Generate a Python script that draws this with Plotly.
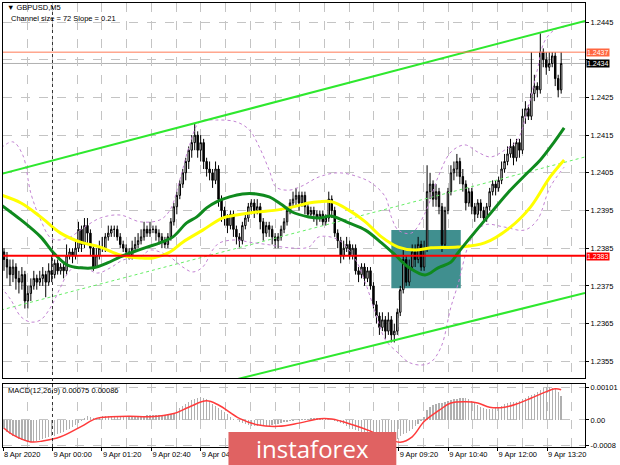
import plotly.graph_objects as go
from plotly.subplots import make_subplots

# ---------------- data ----------------
symbol_title = "\u25BC GBPUSD,M5"
channel_text = "Channel size = 72 Slope = 0.21"
macd_title = "MACD(12,26,9) 0.00075 0.00086"

open_ = [1.2384, 1.2382, 1.2380, 1.2378, 1.2380, 1.2377, 1.2376, 1.2378, 1.2371, 1.2373,
         1.2375, 1.2377, 1.2376, 1.2377, 1.2378, 1.2376, 1.2379, 1.2378, 1.2381, 1.2379,
         1.2380, 1.2379, 1.2383, 1.2384, 1.2383, 1.2385, 1.2390, 1.2386, 1.2391, 1.2389,
         1.2385, 1.2380, 1.2383, 1.2385, 1.2385, 1.2388, 1.2389, 1.2390, 1.2390, 1.2388,
         1.2386, 1.2385, 1.2384, 1.2383, 1.2385, 1.2386, 1.2387, 1.2388, 1.2390, 1.2389,
         1.2390, 1.2390, 1.2389, 1.2388, 1.2387, 1.2386, 1.2388, 1.2392, 1.2396, 1.2399,
         1.2402, 1.2405, 1.2408, 1.2411, 1.2413, 1.2415, 1.2411, 1.2413, 1.2408, 1.2406,
         1.2405, 1.2403, 1.2406, 1.2398, 1.2395, 1.2393, 1.2391, 1.2394, 1.2390, 1.2388,
         1.2387, 1.2391, 1.2393, 1.2396, 1.2397, 1.2395, 1.2396, 1.2392, 1.2389, 1.2391,
         1.2390, 1.2388, 1.2387, 1.2388, 1.2390, 1.2392, 1.2395, 1.2397, 1.2398, 1.2399,
         1.2397, 1.2399, 1.2396, 1.2394, 1.2395, 1.2394, 1.2393, 1.2394, 1.2392, 1.2393,
         1.2398, 1.2395, 1.2389, 1.2387, 1.2383, 1.2385, 1.2386, 1.2383, 1.2385, 1.2379,
         1.2378, 1.2380, 1.2377, 1.2379, 1.2375, 1.2370, 1.2367, 1.2364, 1.2366, 1.2363,
         1.2366, 1.2362, 1.2363, 1.2368, 1.2374, 1.2382, 1.2376, 1.2380, 1.2384, 1.2382,
         1.2386, 1.2380, 1.2385, 1.2400, 1.2402, 1.2398, 1.2400, 1.2396, 1.2386, 1.2395,
         1.2400, 1.2405, 1.2406, 1.2408, 1.2404, 1.2402, 1.2397, 1.2400, 1.2396, 1.2394,
         1.2397, 1.2395, 1.2393, 1.2396, 1.2400, 1.2402, 1.2401, 1.2403, 1.2406, 1.2408,
         1.2410, 1.2412, 1.2409, 1.2413, 1.2411, 1.2420, 1.2422, 1.2420, 1.2426, 1.2428,
         1.2427, 1.2437, 1.2435, 1.2433, 1.2434, 1.2436, 1.2430, 1.2427]

high = [1.2385, 1.2384, 1.2382, 1.2382, 1.2381, 1.2379, 1.2380, 1.2379, 1.2375, 1.2377,
        1.2379, 1.2378, 1.2379, 1.2380, 1.2379, 1.2381, 1.2383, 1.2382, 1.2382, 1.2381,
        1.2381, 1.2386, 1.2385, 1.2385, 1.2387, 1.2392, 1.2391, 1.2393, 1.2393, 1.2390,
        1.2386, 1.2385, 1.2387, 1.2388, 1.2389, 1.2391, 1.2391, 1.2391, 1.2391, 1.2389,
        1.2387, 1.2386, 1.2385, 1.2387, 1.2388, 1.2389, 1.2390, 1.2392, 1.2391, 1.2392,
        1.2391, 1.2391, 1.2390, 1.2389, 1.2388, 1.2389, 1.2393, 1.2397, 1.2400, 1.2403,
        1.2406, 1.2409, 1.2412, 1.2415, 1.2418, 1.2416, 1.2415, 1.2414, 1.2409, 1.2408,
        1.2406, 1.2408, 1.2407, 1.2399, 1.2396, 1.2394, 1.2395, 1.2395, 1.2391, 1.2389,
        1.2392, 1.2394, 1.2397, 1.2398, 1.2398, 1.2398, 1.2397, 1.2393, 1.2392, 1.2392,
        1.2391, 1.2389, 1.2389, 1.2391, 1.2393, 1.2396, 1.2398, 1.2400, 1.2401, 1.2400,
        1.2400, 1.2400, 1.2397, 1.2396, 1.2396, 1.2395, 1.2395, 1.2395, 1.2394, 1.2400,
        1.2399, 1.2396, 1.2390, 1.2388, 1.2387, 1.2388, 1.2387, 1.2386, 1.2386, 1.2380,
        1.2381, 1.2381, 1.2380, 1.2380, 1.2376, 1.2371, 1.2368, 1.2368, 1.2367, 1.2368,
        1.2367, 1.2365, 1.2369, 1.2375, 1.2385, 1.2383, 1.2382, 1.2386, 1.2386, 1.2388,
        1.2387, 1.2387, 1.2407, 1.2405, 1.2403, 1.2402, 1.2401, 1.2397, 1.2396, 1.2401,
        1.2407, 1.2408, 1.2410, 1.2409, 1.2406, 1.2403, 1.2401, 1.2401, 1.2397, 1.2398,
        1.2398, 1.2396, 1.2397, 1.2401, 1.2403, 1.2403, 1.2404, 1.2408, 1.2410, 1.2412,
        1.2414, 1.2413, 1.2414, 1.2414, 1.2422, 1.2424, 1.2423, 1.2437, 1.2431, 1.2429,
        1.2442, 1.2438, 1.2437, 1.2437, 1.2437, 1.2437, 1.2431, 1.2437]

low = [1.2379, 1.2377, 1.2375, 1.2376, 1.2374, 1.2373, 1.2374, 1.2369, 1.2369, 1.2371,
       1.2374, 1.2374, 1.2375, 1.2375, 1.2372, 1.2375, 1.2376, 1.2377, 1.2378, 1.2378,
       1.2377, 1.2378, 1.2382, 1.2381, 1.2382, 1.2384, 1.2384, 1.2385, 1.2386, 1.2383,
       1.2379, 1.2380, 1.2382, 1.2384, 1.2384, 1.2387, 1.2388, 1.2388, 1.2387, 1.2385,
       1.2384, 1.2383, 1.2382, 1.2382, 1.2384, 1.2385, 1.2386, 1.2387, 1.2388, 1.2388,
       1.2389, 1.2387, 1.2386, 1.2385, 1.2385, 1.2385, 1.2387, 1.2391, 1.2394, 1.2398,
       1.2401, 1.2403, 1.2406, 1.2409, 1.2411, 1.2409, 1.2408, 1.2406, 1.2404, 1.2403,
       1.2401, 1.2402, 1.2396, 1.2392, 1.2391, 1.2389, 1.2390, 1.2388, 1.2386, 1.2385,
       1.2386, 1.2390, 1.2392, 1.2394, 1.2393, 1.2394, 1.2390, 1.2387, 1.2388, 1.2388,
       1.2386, 1.2385, 1.2385, 1.2387, 1.2389, 1.2391, 1.2394, 1.2396, 1.2396, 1.2395,
       1.2396, 1.2394, 1.2393, 1.2393, 1.2392, 1.2391, 1.2392, 1.2391, 1.2391, 1.2392,
       1.2393, 1.2388, 1.2385, 1.2381, 1.2382, 1.2384, 1.2382, 1.2382, 1.2378, 1.2376,
       1.2377, 1.2375, 1.2376, 1.2374, 1.2369, 1.2365, 1.2362, 1.2363, 1.2361, 1.2362,
       1.2360, 1.2360, 1.2362, 1.2367, 1.2373, 1.2375, 1.2375, 1.2379, 1.2380, 1.2381,
       1.2379, 1.2379, 1.2384, 1.2398, 1.2396, 1.2396, 1.2394, 1.2384, 1.2385, 1.2394,
       1.2399, 1.2403, 1.2404, 1.2402, 1.2400, 1.2395, 1.2396, 1.2394, 1.2392, 1.2393,
       1.2393, 1.2392, 1.2392, 1.2395, 1.2399, 1.2399, 1.2400, 1.2402, 1.2405, 1.2407,
       1.2409, 1.2407, 1.2408, 1.2409, 1.2410, 1.2418, 1.2419, 1.2419, 1.2424, 1.2425,
       1.2426, 1.2433, 1.2431, 1.2432, 1.2433, 1.2428, 1.2425, 1.2426]

close = [1.2382, 1.2380, 1.2378, 1.2380, 1.2377, 1.2376, 1.2378, 1.2371, 1.2373, 1.2375,
         1.2377, 1.2376, 1.2377, 1.2378, 1.2376, 1.2379, 1.2378, 1.2381, 1.2379, 1.2380,
         1.2379, 1.2383, 1.2384, 1.2383, 1.2385, 1.2390, 1.2386, 1.2391, 1.2389, 1.2385,
         1.2380, 1.2383, 1.2385, 1.2385, 1.2388, 1.2389, 1.2390, 1.2390, 1.2388, 1.2386,
         1.2385, 1.2384, 1.2383, 1.2385, 1.2386, 1.2387, 1.2388, 1.2390, 1.2389, 1.2390,
         1.2390, 1.2389, 1.2388, 1.2387, 1.2386, 1.2388, 1.2392, 1.2396, 1.2399, 1.2402,
         1.2405, 1.2408, 1.2411, 1.2413, 1.2415, 1.2411, 1.2413, 1.2408, 1.2406, 1.2405,
         1.2403, 1.2406, 1.2398, 1.2395, 1.2393, 1.2391, 1.2394, 1.2390, 1.2388, 1.2387,
         1.2391, 1.2393, 1.2396, 1.2397, 1.2395, 1.2396, 1.2392, 1.2389, 1.2391, 1.2390,
         1.2388, 1.2387, 1.2388, 1.2390, 1.2392, 1.2395, 1.2397, 1.2398, 1.2399, 1.2397,
         1.2399, 1.2396, 1.2394, 1.2395, 1.2394, 1.2393, 1.2394, 1.2392, 1.2393, 1.2398,
         1.2395, 1.2389, 1.2387, 1.2383, 1.2385, 1.2386, 1.2383, 1.2385, 1.2379, 1.2378,
         1.2380, 1.2377, 1.2379, 1.2375, 1.2370, 1.2367, 1.2364, 1.2366, 1.2363, 1.2366,
         1.2362, 1.2363, 1.2368, 1.2374, 1.2382, 1.2376, 1.2380, 1.2384, 1.2382, 1.2386,
         1.2380, 1.2385, 1.2400, 1.2402, 1.2398, 1.2400, 1.2396, 1.2386, 1.2395, 1.2400,
         1.2405, 1.2406, 1.2408, 1.2404, 1.2402, 1.2397, 1.2400, 1.2396, 1.2394, 1.2397,
         1.2395, 1.2393, 1.2396, 1.2400, 1.2402, 1.2401, 1.2403, 1.2406, 1.2408, 1.2410,
         1.2412, 1.2409, 1.2413, 1.2411, 1.2420, 1.2422, 1.2420, 1.2426, 1.2428, 1.2427,
         1.2437, 1.2435, 1.2433, 1.2434, 1.2436, 1.2430, 1.2427, 1.2434]

bar_index = list(range(len(close)))

# MACD histogram in points (1 point = 0.00001)
macd_hist_pts = [-30, -38, -45, -50, -55, -60, -63, -66, -68, -69,
                 -68, -66, -64, -61, -58, -55, -52, -49, -45, -42,
                 -37, -32, -27, -21, -15, -9, -3, 6, 12, 8,
                 5, 7, 10, 11, 12, 12, 12, 13, 12, 12,
                 11, 11, 11, 12, 12, 12, 13, 13, 14, 14,
                 15, 15, 15, 15, 15, 17, 19, 23, 30, 37,
                 44, 51, 57, 63, 67, 70, 72, 70, 66, 58,
                 50, 44, 38, 32, 25, 18, 10, 4, -1, -5,
                 -9, -14, -17, -18, -19, -20, -20, -20, -19, -18,
                 -16, -14, -12, -10, -8, -6, -4, -2, 0, 2,
                 3, 4, 4, 5, 5, 5, 5, 4, 3, 2,
                 0, -3, -6, -10, -14, -18, -22, -28, -32, -35,
                 -37, -40, -43, -45, -48, -52, -55, -60, -66, -70,
                 -68, -65, -60, -52, -45, -40, -34, -28, -20, -12,
                 -2, 10, 30, 42, 47, 50, 52, 54, 56, 58,
                 62, 65, 67, 68, 70, 70, 66, 60, 53, 47,
                 42, 38, 35, 33, 34, 38, 41, 45, 50, 53,
                 55, 56, 57, 60, 65, 70, 74, 78, 83, 88,
                 94, 100, 102, 104, 101, 96, 88, 75]

signal_idx = [0, 3, 9, 13, 19, 26, 31, 36, 42, 49, 57, 62, 68, 72, 79, 85, 92, 99,
              106, 110, 117, 123, 130, 133, 137, 141, 146, 150, 155, 159, 163, 168,
              172, 177, 181, 185, 187]
signal_pts = [-26, -47, -69, -66, -53, -20, 5, 10, 12, 10, 20, 40, 60, 47, 5, -15, -20, -10,
              4, 3, -15, -35, -63, -70, -53, -5, 30, 53, 57, 53, 40, 40,
              50, 69, 85, 98, 95]

# moving averages
ma_green_idx = [-1, 5.7, 12.3, 16.7, 21.3, 25.7, 30, 34.7, 39, 43.3, 48, 52.3, 56.7, 61.3,
                64.7, 68, 71.3, 75.7, 80, 84.7, 89, 93.3, 96.7, 102.3, 105.7, 110, 115.7,
                121.3, 126.7, 131.3, 135.7, 141.3, 145.7, 150, 152.3, 156.7, 162.3, 169,
                175.7, 180, 184.7, 188]
ma_green = [1.23965, 1.23925, 1.23880, 1.23837, 1.23805, 1.23798, 1.23798, 1.23811,
            1.23827, 1.23840, 1.23853, 1.23864, 1.23880, 1.23917, 1.23933, 1.23957,
            1.23973, 1.23986, 1.23994, 1.23994, 1.23986, 1.23965, 1.23946, 1.23933,
            1.23930, 1.23935, 1.23917, 1.23898, 1.23864, 1.23832, 1.23800, 1.23779,
            1.23798, 1.23813, 1.23837, 1.23880, 1.23933, 1.23996, 1.24050, 1.24084,
            1.24132, 1.24169]

ma_yellow_idx = [-1, 5.7, 12.3, 19, 25.7, 32.3, 39, 45.7, 50, 55.7, 60, 66.7, 73.3, 78,
                 84.7, 91.3, 96.7, 102.3, 105.7, 110, 115.7, 121.3, 126.7, 132.3, 138,
                 143.3, 152.3, 161.3, 170, 176.7, 183.3, 188]
ma_yellow = [1.23991, 1.23970, 1.23933, 1.23890, 1.23866, 1.23853, 1.23832, 1.23824,
             1.23824, 1.23840, 1.23866, 1.23898, 1.23930, 1.23938, 1.23946, 1.23951,
             1.23959, 1.23970, 1.23973, 1.23973, 1.23951, 1.23920, 1.23880, 1.23853,
             1.23845, 1.23851, 1.23853, 1.23864, 1.23906, 1.23959, 1.24039, 1.24084]

band_up_idx = [-1, 3, 6.3, 9, 12.3, 15.7, 19, 22.3, 26.7, 32.3, 39, 45.7, 52.3, 55.7,
               59, 62.3, 65.7, 71.3, 78, 82.3, 85.7, 89, 91.3, 95.7, 100, 105.7, 112.3,
               119, 123.3, 128, 130, 132.3, 136.7, 141.3, 145.7, 150, 154.7, 159, 163.3,
               168, 172.3, 175.7, 179, 181.3, 184.7, 188]
band_up = [1.24116, 1.24132, 1.24097, 1.23996, 1.23925, 1.23877, 1.23872, 1.23880,
           1.23904, 1.23930, 1.23938, 1.23920, 1.23925, 1.23951, 1.24031, 1.24124,
           1.24185, 1.24190, 1.24185, 1.24164, 1.24118, 1.24057, 1.24012, 1.24004,
           1.24015, 1.24039, 1.24050, 1.24039, 1.24023, 1.23986, 1.23933, 1.23898,
           1.23890, 1.23943, 1.24039, 1.24105, 1.24124, 1.24105, 1.24092, 1.24110,
           1.24137, 1.24217, 1.24323, 1.24397, 1.24429, 1.24437]

band_lo_idx = [-1, 2.3, 5.7, 9, 12.3, 15.7, 19, 22.3, 26.7, 31.3, 35.7, 40, 45.7, 49,
               52.3, 55.7, 60, 63.3, 66.7, 70, 72.3, 78, 82.3, 89, 95.7, 102.3, 105.7,
               112.3, 118, 121.3, 124.7, 128, 132.3, 135.7, 140, 143.3, 146.7, 150,
               152.3, 156.7, 161.3, 168, 174.7, 179, 183.3, 188]
band_lo = [1.23747, 1.23713, 1.23668, 1.23654, 1.23660, 1.23694, 1.23747, 1.23792,
           1.23800, 1.23784, 1.23798, 1.23819, 1.23827, 1.23845, 1.23840, 1.23827,
           1.23800, 1.23787, 1.23800, 1.23845, 1.23864, 1.23872, 1.23866, 1.23859,
           1.23851, 1.23853, 1.23880, 1.23872, 1.23819, 1.23758, 1.23678, 1.23607,
           1.23572, 1.23548, 1.23540, 1.23548, 1.23588, 1.23694, 1.23752, 1.23872,
           1.23912, 1.23906, 1.23898, 1.23925, 1.24012, 1.24065]

# channel lines (two anchor points each)
channel_upper_idx = [-1, 195]
channel_upper = [1.24047, 1.24453]
channel_lower_idx = [60, 195]
channel_lower = [1.23467, 1.23731]
channel_mid_idx = [-1, 195]
channel_mid = [1.23686, 1.24092]

level_support = 1.2383
level_high = 1.2437
level_last = 1.2434

zone_idx = [130, 153.3]
zone_price = [1.23744, 1.23898]

price_ticks = [1.2355, 1.2365, 1.2375, 1.2385, 1.2395, 1.2405, 1.2415, 1.2425, 1.2435, 1.2445]
price_tick_text = ["1.2355", "1.2365", "1.2375", "1.2385", "1.2395", "1.2405", "1.2415",
                   "1.2425", "", "1.2445"]
macd_ticks = [0.00101, 0.0, -0.0008]
macd_tick_text = ["0.00101", "0.00", "-0.0008"]

time_tick_idx = [-0.33, 16.27, 32.87, 49.47, 66.07, 82.67, 99.27, 115.87, 132.47,
                 149.07, 165.67, 182.27]
# labels 05:20 .. 08:00 sit under the instaforex plate in the reference
time_tick_labels = ["8 Apr 2020", "9 Apr 00:00", "9 Apr 01:20", "9 Apr 02:40",
                    "9 Apr 04:00", "", "", "",
                    "9 Apr 09:20", "9 Apr 10:40", "9 Apr 12:00", "9 Apr 13:20"]
time_minor_idx = [7.97, 24.57, 41.17, 57.77, 74.37, 90.97, 107.57, 124.17, 140.77,
                  157.37, 173.97, 190.57]
day_separator_idx = 16.27

# ---------------- figure ----------------
FONT = "Liberation Sans"
GRID = "#c4c4c4"
BAND = "#c383d3"

fig = make_subplots(rows=2, cols=1, shared_xaxes=True)

fig.add_trace(go.Scatter(x=channel_mid_idx, y=channel_mid, mode="lines",
                         line=dict(color="#66ee66", width=1, dash="dot"),
                         hoverinfo="skip"), row=1, col=1)
fig.add_trace(go.Scatter(x=band_up_idx, y=band_up, mode="lines", line_shape="spline",
                         line=dict(color=BAND, width=1, dash="dot"),
                         hoverinfo="skip"), row=1, col=1)
fig.add_trace(go.Scatter(x=band_lo_idx, y=band_lo, mode="lines", line_shape="spline",
                         line=dict(color=BAND, width=1, dash="dot"),
                         hoverinfo="skip"), row=1, col=1)

fig.add_trace(go.Candlestick(x=bar_index, open=open_, high=high, low=low, close=close,
                             increasing=dict(line=dict(color="#000000", width=1),
                                             fillcolor="#ffffff"),
                             decreasing=dict(line=dict(color="#000000", width=1),
                                             fillcolor="#000000"),
                             whiskerwidth=0, hoverinfo="skip"), row=1, col=1)

fig.add_trace(go.Scatter(x=ma_yellow_idx, y=ma_yellow, mode="lines", line_shape="spline",
                         line=dict(color="#ffff00", width=3), hoverinfo="skip"),
              row=1, col=1)
fig.add_trace(go.Scatter(x=ma_green_idx, y=ma_green, mode="lines", line_shape="spline",
                         line=dict(color="#0f8a1e", width=3), hoverinfo="skip"),
              row=1, col=1)

fig.add_trace(go.Scatter(x=channel_upper_idx, y=channel_upper, mode="lines",
                         line=dict(color="#2ee82e", width=2), hoverinfo="skip"),
              row=1, col=1)
fig.add_trace(go.Scatter(x=channel_lower_idx, y=channel_lower, mode="lines",
                         line=dict(color="#2ee82e", width=2), hoverinfo="skip"),
              row=1, col=1)

# MACD panel
fig.add_trace(go.Bar(x=bar_index, y=[v * 1e-5 for v in macd_hist_pts], width=0.45,
                     marker=dict(color="#b0b0b0", line=dict(width=0)),
                     hoverinfo="skip"), row=2, col=1)
fig.add_trace(go.Scatter(x=signal_idx, y=[v * 1e-5 for v in signal_pts], mode="lines",
                         line_shape="spline", line=dict(color="#ff3b3b", width=1.5),
                         hoverinfo="skip"), row=2, col=1)

shapes = [
    dict(type="rect", xref="x", yref="y", x0=zone_idx[0], x1=zone_idx[1],
         y0=zone_price[0], y1=zone_price[1], fillcolor="#408f8f",
         line=dict(width=0), layer="between"),
    dict(type="line", xref="paper", yref="y", x0=0, x1=1, y0=level_last, y1=level_last,
         line=dict(color="#b0b0b0", width=1), layer="between"),
    dict(type="line", xref="paper", yref="y", x0=0, x1=1, y0=level_high, y1=level_high,
         line=dict(color="#ff7a55", width=1), layer="above"),
    dict(type="line", xref="paper", yref="y", x0=0, x1=1, y0=level_support,
         y1=level_support, line=dict(color="#ff0000", width=2), layer="above"),
    dict(type="line", xref="x", yref="paper", x0=day_separator_idx, x1=day_separator_idx,
         y0=0, y1=1, line=dict(color="#333333", width=1, dash="dot"), layer="above"),
    # instaforex logo plate
    dict(type="rect", xref="paper", yref="paper", x0=0.3874, x1=0.6758, y0=-0.045,
         y1=0.0338, fillcolor="#e06262", line=dict(width=0), layer="above"),
]

annotations = [
    dict(text=symbol_title, xref="paper", yref="paper", x=0.004, y=0.990, xanchor="left",
         yanchor="middle", showarrow=False, font=dict(family=FONT, size=7.5, color="#000")),
    dict(text=channel_text, xref="paper", yref="paper", x=0.0095, y=0.964,
         xanchor="left", yanchor="middle", showarrow=False,
         font=dict(family=FONT, size=7.5, color="#000")),
    dict(text=macd_title, xref="paper", yref="paper", x=0.006, y=0.127,
         xanchor="left", yanchor="middle", showarrow=False,
         font=dict(family=FONT, size=7.5, color="#000")),
    dict(text="1.2437", xref="paper", yref="y", x=1, y=level_high, xanchor="left",
         xshift=1, yanchor="middle", showarrow=False, bgcolor="#ff6640", borderpad=0,
         font=dict(family=FONT, size=7, color="#ffffff")),
    dict(text="1.2434", xref="paper", yref="y", x=1, y=level_last, xanchor="left",
         xshift=1, yanchor="middle", showarrow=False, bgcolor="#000000", borderpad=0,
         font=dict(family=FONT, size=7, color="#ffffff")),
    dict(text="1.2383", xref="paper", yref="y", x=1, y=level_support, xanchor="left",
         xshift=1, yshift=-1, yanchor="middle", showarrow=False, bgcolor="#ff0000",
         borderpad=0, font=dict(family=FONT, size=7, color="#ffffff")),
    dict(text="instaforex", xref="paper", yref="paper", x=0.531, y=-0.0023,
         xanchor="center", yanchor="middle", showarrow=False,
         font=dict(family="Open Sans", size=24, color="#ffffff")),
]

fig.update_layout(
    width=620, height=465,
    margin=dict(l=2, r=32, t=3, b=18),
    paper_bgcolor="#ffffff", plot_bgcolor="#ffffff",
    showlegend=False, bargap=0,
    shapes=shapes, annotations=annotations,
    font=dict(family=FONT, size=7.5, color="#000000"),
    hovermode=False,
)

xrange = [-0.34, 195]
fig.update_xaxes(range=xrange, showline=True, mirror=True, linecolor="#000000",
                 linewidth=1, showgrid=True, gridcolor=GRID, griddash="dash",
                 gridwidth=1, zeroline=False, rangeslider=dict(visible=False),
                 tickvals=time_tick_idx,
                 minor=dict(tickvals=time_minor_idx, showgrid=True, gridcolor=GRID,
                            griddash="dash", ticks=""))
fig.update_xaxes(showticklabels=False, ticks="", row=1, col=1)
fig.update_xaxes(ticktext=time_tick_labels, showticklabels=True, ticks="outside",
                 ticklen=3, tickcolor="#000000", ticklabelposition="outside right",
                 tickfont=dict(family=FONT, size=7.5, color="#000"), row=2, col=1)

fig.update_yaxes(side="right", showline=True, mirror=True, linecolor="#000000",
                 linewidth=1, showgrid=True, gridcolor=GRID, griddash="dash",
                 zeroline=False, ticks="outside", ticklen=3, tickcolor="#000000",
                 tickfont=dict(family=FONT, size=7.5, color="#000"))
fig.update_yaxes(range=[1.235057, 1.245004], domain=[0.1554, 1.0],
                 tickvals=price_ticks, ticktext=price_tick_text, row=1, col=1)
fig.update_yaxes(range=[-0.00085, 0.00113], domain=[0.0, 0.1419],
                 tickvals=macd_ticks, ticktext=macd_tick_text, row=2, col=1)
fig.update_layout(xaxis=dict(domain=[0, 1]), xaxis2=dict(domain=[0, 1]))

fig.write_html("out.html",
               config={"displayModeBar": False, "staticPlot": True},
               post_script="document.body.style.margin='0px';"
                           "document.body.style.overflow='hidden';")
